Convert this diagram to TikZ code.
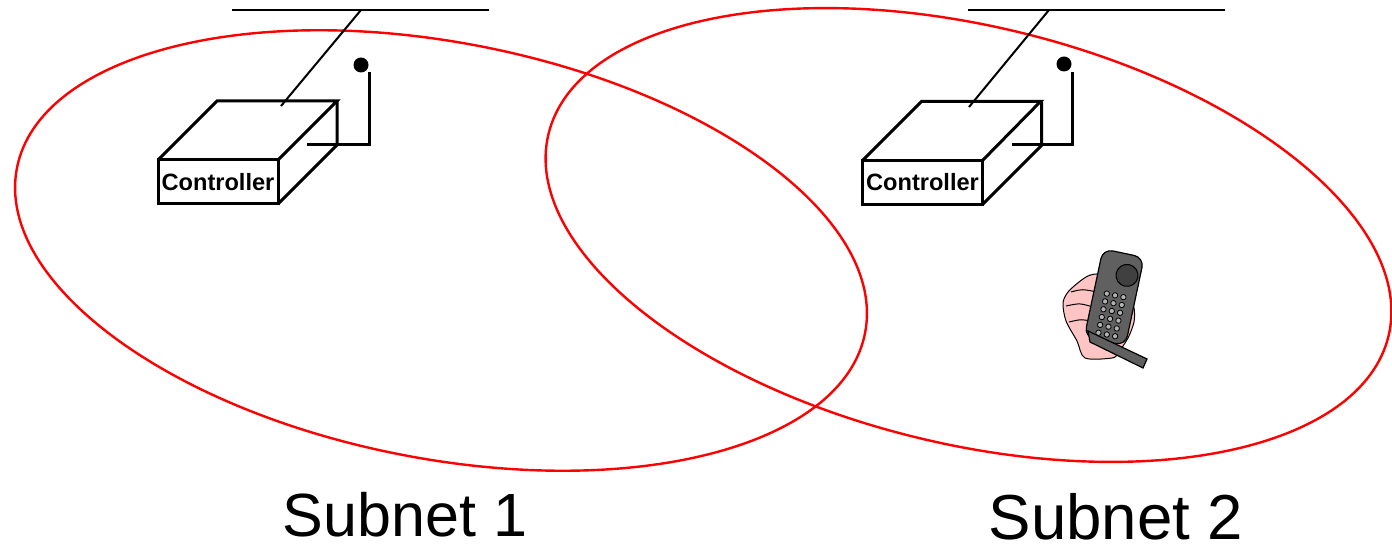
\documentclass[tikz,border=0pt]{standalone}
\usepackage{fontspec}
\setmainfont{Liberation Sans}
\definecolor{handpink}{RGB}{255,196,196}
\definecolor{phonegray}{RGB}{96,96,96}
\begin{document}
\begin{tikzpicture}[x=0.5pt, y=-0.5pt,
    subnet/.style ={draw=red, line width=1.2pt},
    controller/.style ={draw, line width=1.5pt, inner sep=0pt, outer sep=0pt,
      minimum width=60pt, minimum height=22pt,
      font=\fontsize{11.8}{14}\selectfont\bfseries},
    boxedge/.style ={line width=1.5pt},
    wire/.style ={line width=1pt},
    antdot/.style ={circle, fill, inner sep=0pt, minimum size=7.5pt},
    subnetname/.style ={inner sep=0pt, anchor=base}]
   \useasboundingbox (0,0) rectangle (1392,549);

   \draw[subnet] (441,250.5) ellipse [x radius=432, y radius=208, rotate=-11];
   \draw[subnet] (968.5,235) ellipse [x radius=432, y radius=209, rotate=-13.5];

   \node[controller] (ctrl1) at (218,182) {Controller};
   \node[controller] (ctrl2) at (922.5,182.5) {Controller};
   \node[antdot] (dot1) at (361,65) {};
   \node[antdot] (dot2) at (1064,64) {};
   \node[subnetname, font=\fontsize{30.5}{36}\selectfont] (sub1) at (405,537) {Subnet 1};
   \node[subnetname, font=\fontsize{31.8}{36}\selectfont] (sub2) at (1116,540) {Subnet 2};

   \coordinate (bus1w) at (232,10);
   \coordinate (bus1e) at (489,10);
   \coordinate (tap1)  at (361,10);
   \coordinate (drop1) at (281,106);
   \coordinate (feed1) at (307,145);
   \coordinate (ant1)  at (369,72);
   \coordinate (bus2w) at (968,10);
   \coordinate (bus2e) at (1225,10);
   \coordinate (tap2)  at (1049,10);
   \coordinate (drop2) at (969,107);
   \coordinate (feed2) at (1012,145);
   \coordinate (ant2)  at (1072,72);

   \draw[wire] (bus1w) -- (bus1e);
   \draw[wire] (tap1) -- (drop1);
   \draw[boxedge] (ctrl1.north west) -- ++(59,-59) -- ++(120,0) -- (ctrl1.north east);
   \draw[boxedge] (ctrl1.south east) -- ++(59,-59) -- ++(0,-44);
   \draw[boxedge] (feed1) -| (ant1);

   \draw[wire] (bus2w) -- (bus2e);
   \draw[wire] (tap2) -- (drop2);
   \draw[boxedge] (ctrl2.north west) -- ++(59,-59) -- ++(119,0) -- (ctrl2.north east);
   \draw[boxedge] (ctrl2.south east) -- ++(59,-59) -- ++(0,-44);
   \draw[boxedge] (feed2) -| (ant2);

   \filldraw[fill=handpink, line width=0.5pt] plot[smooth cycle] coordinates {(1085,358) (1077,341)
     (1066,321) (1063,303) (1068,292) (1079,282) (1088,276) (1097,274) (1105,278) (1120,290)
     (1129,300) (1134,308) (1134,322) (1128,338) (1118,353) (1112,358)};
   \draw[line width=0.5pt] (1071,292) .. controls (1082,289) .. (1097,292);
   \draw[line width=0.5pt] (1066,306) .. controls (1080,303) .. (1096,308);
   \draw[line width=0.5pt] (1069,322) .. controls (1082,319) .. (1094,322);

   \begin{scope}[shift={(1113,298)}, rotate=-12]
     \filldraw[fill=phonegray, line width=0.6pt, rounded corners=5pt] (-20,-46) rectangle (22,44);
     \filldraw[fill=black!75, line width=0.5pt] (9,-25) circle [radius=11];
     \foreach \row in {-3,5,...,37}
       \foreach \col in {-7,1.5,10}
         \filldraw[fill=black!30, line width=0.4pt] (\col,\row) circle [radius=2.7];
   \end{scope}
   \filldraw[fill=phonegray, line width=0.6pt] (1088,331) -- (1147,359) -- (1143,368) -- (1090,342) -- cycle;
 \end{tikzpicture}
\end{document}
